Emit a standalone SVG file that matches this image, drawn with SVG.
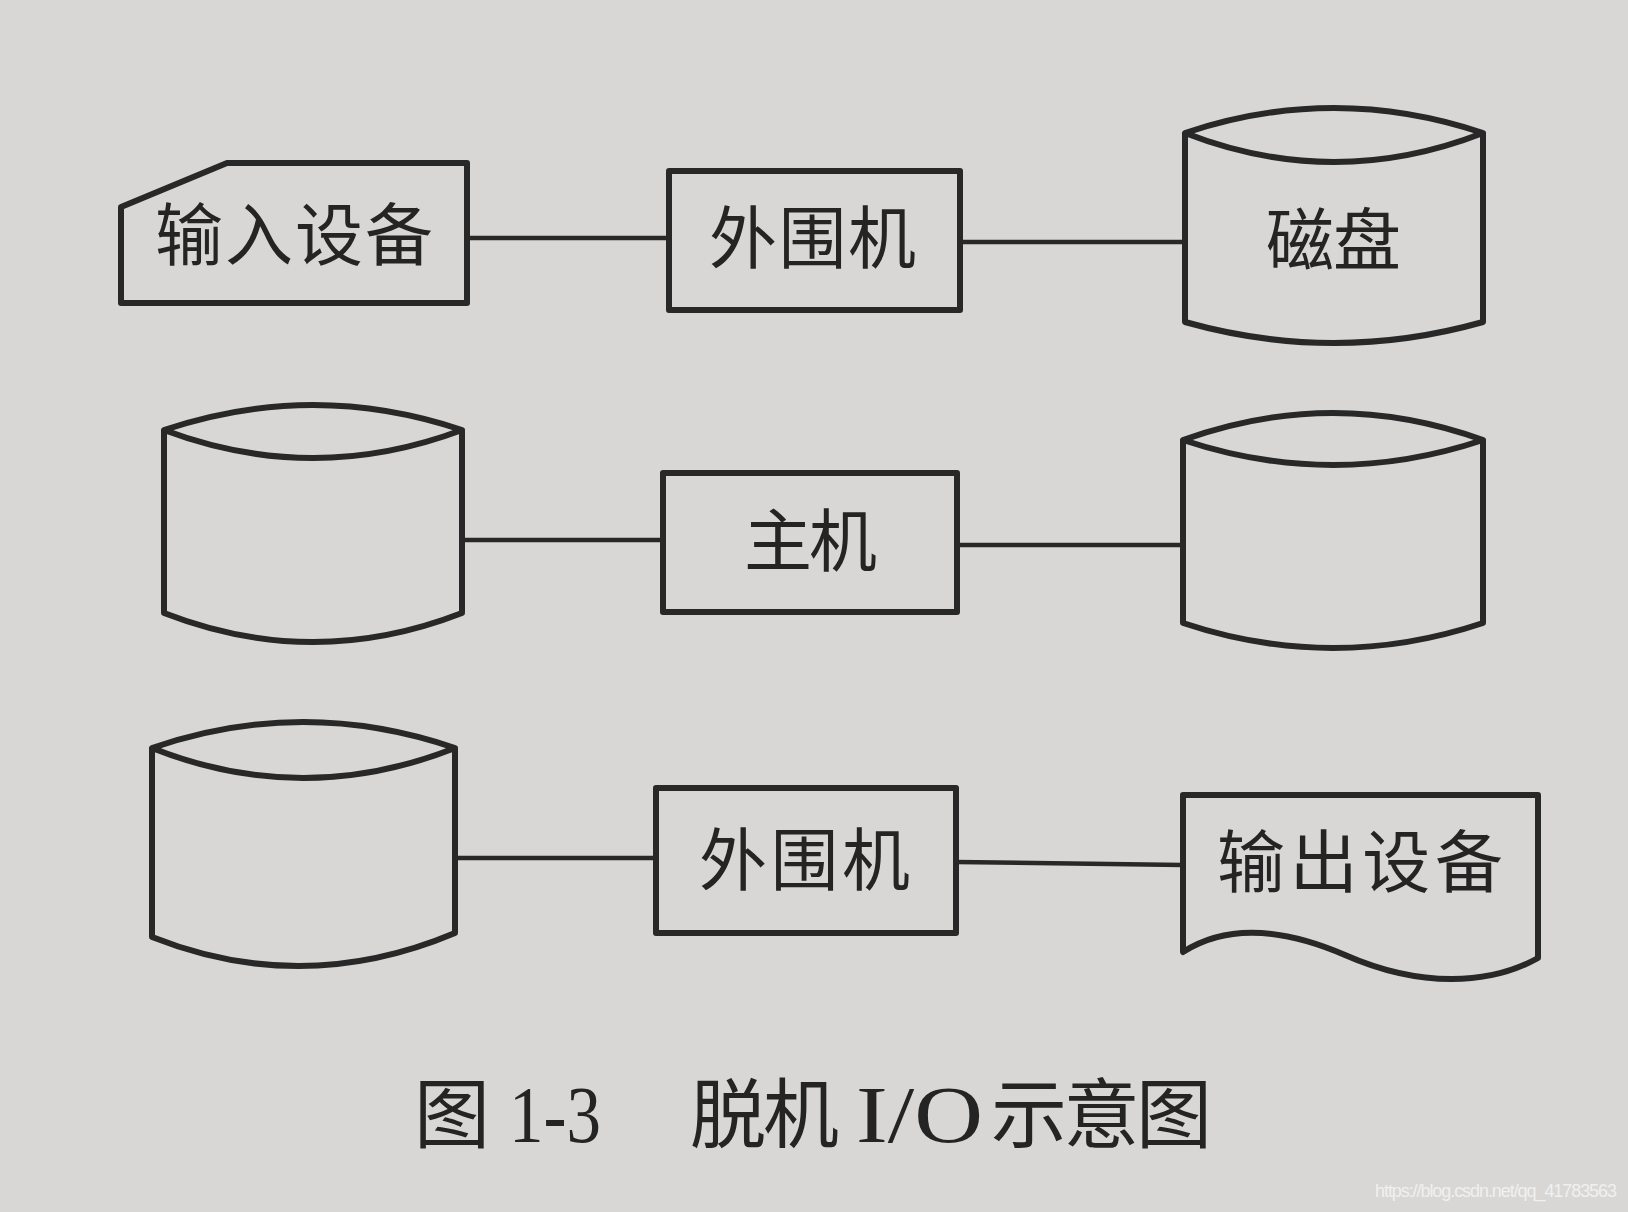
<svg xmlns="http://www.w3.org/2000/svg" width="1628" height="1212" viewBox="0 0 1628 1212">
<style>
.s{fill:none;stroke:#282828;stroke-width:6;stroke-linejoin:round;}
.c{fill:none;stroke:#282828;stroke-width:4.5;}
.t{font-family:"Noto Sans CJK SC","Noto Sans",sans-serif;font-size:68px;fill:#242424;}
.cap{font-family:"Noto Sans CJK SC",sans-serif;font-size:76px;fill:#242424;}
.lat{font-family:"Liberation Serif",serif;font-size:80px;fill:#242424;}
</style>
<rect width="1628" height="1212" fill="#d9d7d5"/>
<g id="connectors">
<line class="c" x1="467" y1="238" x2="669" y2="238"/>
<line class="c" x1="960" y1="242" x2="1185" y2="242"/>
<line class="c" x1="462" y1="540" x2="663" y2="540"/>
<line class="c" x1="957" y1="545" x2="1183" y2="545"/>
<line class="c" x1="455" y1="858" x2="656" y2="858"/>
<line class="c" x1="956" y1="862" x2="1183" y2="865"/>
</g>
<g id="input-device">
<path class="s" d="M121,207 L227,163 H467 V303 H121 Z"/>
<text class="t" x="155" y="260" textLength="278">输入设备</text>
</g>
<g id="peripheral-1">
<rect class="s" x="669" y="171" width="291" height="139"/>
<text class="t" x="709" y="263" textLength="207">外围机</text>
</g>
<g id="disk-1">
<path class="s" d="M1185,133 Q1334,83 1483,133 Q1334,191 1185,133 Z M1185,133 V322 Q1334,364 1483,322 V133"/>
<text class="t" x="1266" y="265" textLength="135">磁盘</text>
</g>
<g id="disk-2">
<path class="s" d="M164,430 Q313,380 462,430 Q313,486 164,430 Z M164,430 V613 Q313,671 462,613 V430"/>
</g>
<g id="host">
<rect class="s" x="663" y="473" width="294" height="139"/>
<text class="t" x="744" y="566" textLength="133">主机</text>
</g>
<g id="disk-3">
<path class="s" d="M1183,440 Q1333,386 1483,440 Q1333,490 1183,440 Z M1183,440 V623 Q1333,673 1483,623 V440"/>
</g>
<g id="disk-4">
<path class="s" d="M152,748 Q303,696 455,748 Q303,808 152,748 Z M152,748 V937 Q303,997 455,933 V748"/>
</g>
<g id="peripheral-2">
<rect class="s" x="656" y="788" width="300" height="145"/>
<text class="t" x="699" y="885" textLength="211">外围机</text>
</g>
<g id="output-device">
<path class="s" d="M1183,952 V795 H1538 V958 C1490,985 1420,988 1345,955 C1280,927 1225,925 1183,952 Z"/>
<text class="t" x="1217" y="887" textLength="286">输出设备</text>
</g>
<g id="caption">
<text class="cap" x="414" y="1142">图</text>
<text class="lat" x="509" y="1142" textLength="92" lengthAdjust="spacingAndGlyphs">1-3</text>
<text class="cap" x="690" y="1142" textLength="149">脱机</text>
<text class="lat" x="856" y="1142" textLength="127" lengthAdjust="spacingAndGlyphs">I/O</text>
<text class="cap" x="991" y="1142" textLength="221">示意图</text>
</g>
<text x="1375" y="1197" font-family="Liberation Sans, sans-serif" font-size="18" fill="#f0f0f0" textLength="242">https://blog.csdn.net/qq_41783563</text>
</svg>
